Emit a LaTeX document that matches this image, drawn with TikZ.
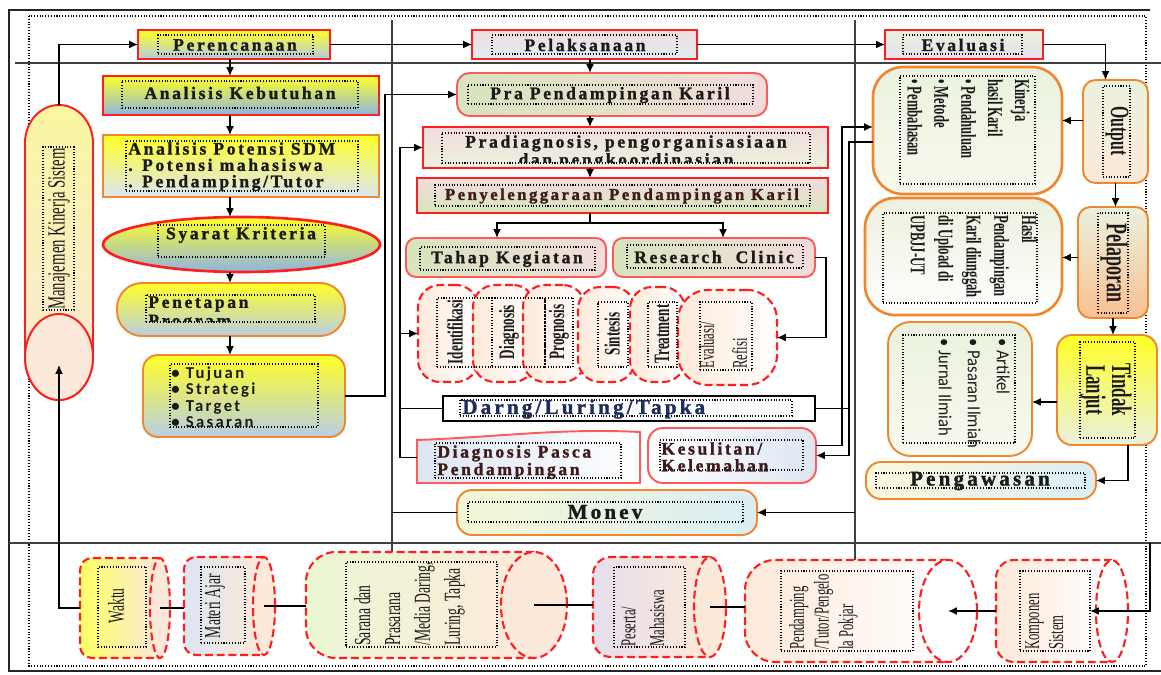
\documentclass[tikz,border=0pt]{standalone}
\usepackage{fontspec}
\setmainfont{Liberation Serif}
\newfontfamily\fBS[LetterSpace=15,BoldFeatures={FakeBold=1.3}]{Liberation Serif}
\newfontfamily\fCX[FakeStretch=0.6]{Liberation Serif}
\newfontfamily\fCB[LetterSpace=14]{Carlito}
\newfontfamily\fCR[FakeStretch=0.9]{Carlito}
\usetikzlibrary{arrows.meta,shapes.geometric}
\def\pxu{0.02cm}
\definecolor{yel}{HTML}{FFFF26}
\definecolor{bluePer}{HTML}{B4CBE6}
\definecolor{blueA}{HTML}{8EB4E3}
\definecolor{blueL}{HTML}{B9CDE5}
\definecolor{blueP}{HTML}{DCE6F2}
\definecolor{pinkA}{HTML}{F2DCDB}
\definecolor{cyanL}{HTML}{DBEEF4}
\definecolor{greenA}{HTML}{D7E4BD}
\definecolor{greenL}{HTML}{EBF1DE}
\definecolor{greenW}{HTML}{F6FAEE}
\definecolor{lav}{HTML}{E5DFEC}
\definecolor{peach}{HTML}{FDE9D9}
\definecolor{peachD}{HTML}{FAC090}
\definecolor{yelL}{HTML}{F4F7D4}
\definecolor{yelP}{HTML}{FCF8DC}
\definecolor{yelW}{HTML}{FFFF66}
\definecolor{mkTop}{HTML}{FAF6A0}
\definecolor{sarL}{HTML}{EBF7D3}
\definecolor{redB}{HTML}{FF1E1E}
\definecolor{redL}{HTML}{FF5A5A}
\definecolor{orgB}{HTML}{F0862E}
\definecolor{txt}{HTML}{1A1A1A}
\definecolor{mar}{HTML}{3E1A1A}
\definecolor{nav}{HTML}{1F2D5C}
\tikzset{
 frm/.style={draw=black!75,line width=1.1pt},
 cn/.style={draw=black,line width=0.85pt},
 ar/.style={cn,-{Latex[length=5pt,width=4.5pt]}},
 inr/.style={draw=black,densely dotted,line width=0.6pt},
 rb/.style={draw=redB,line width=1.1pt},
 lrb/.style={draw=redL,line width=1.1pt},
 ob/.style={draw=orgB,line width=1.1pt},
 dashr/.style={draw=redB,line width=1.2pt,dash pattern=on 4.5pt off 2.2pt},
 tx/.style={inner sep=0pt,text=txt,font=\fBS\bfseries\fontsize{10}{9.3}\selectfont},
 tb/.style={inner sep=0pt,text=txt,font=\fBS\bfseries\fontsize{12}{12}\selectfont},
 rt/.style={inner sep=0pt,text=txt,font=\fCX\bfseries\fontsize{12.5}{15}\selectfont},
 rr/.style={inner sep=0pt,text=txt,font=\fCX\fontsize{13}{17}\selectfont},
}
\newcommand\bx[7]{\node[#1,inner sep=0pt,outer sep=0pt,minimum width={(#5-#3)*\pxu},minimum height={(#6-#4)*\pxu}] (#2) at ({(#3+#5)/2},{(#4+#6)/2}) {#7};}
% name, xleft, xr, cy, rx, ry, R, left colour, right colour
\newcommand\cyl[9]{%
 \path[dashr,left color=#8,right color=#9] (#3,{#4-#6}) -- ({#2+#7},{#4-#6}) arc[start angle=90,end angle=180,radius=#7*\pxu] -- (#2,{#4+#6-#7}) arc[start angle=180,end angle=270,radius=#7*\pxu] -- (#3,{#4+#6}) -- cycle;
 \node[dashr,ellipse,fill=#9,inner sep=0pt,minimum width={2*#5*\pxu},minimum height={2*#6*\pxu}] (#1E) at (#3,#4) {};
 \node[inner sep=0pt,outer sep=0pt,minimum width={(#3+#5-#2)*\pxu},minimum height={2*#6*\pxu}] (#1) at ({(#2+#3+#5)/2},#4) {};
}
\begin{document}
\begin{tikzpicture}[x=0.02cm,y=-0.02cm]
\useasboundingbox (0,0) rectangle (1161,675);
% ---------- frames ----------
\draw[draw=black!85,line width=1.6pt] (1150,10) -- (9,10) -- (9,671) -- (1161,671);
\draw[densely dotted,line width=0.6pt] (29,16) rectangle (1146,666);
\draw[frm] (15,63) -- (1161,63);
\draw[frm] (9,543) -- (1161,543);
\draw[frm,line width=1.4pt] (392,20) -- (392,552);
\draw[frm,line width=1.4pt] (855,20) -- (855,560);

% ---------- Manajemen Kinerja Sistem ----------
\path[rb,top color=mkTop,bottom color=peach] (25,143) arc[start angle=180,end angle=0,x radius=34*\pxu,y radius=38*\pxu] -- (93,357) arc[start angle=0,end angle=-180,x radius=34*\pxu,y radius=43*\pxu] -- cycle;
\draw[rb,fill=peach] (59,357) ellipse[x radius=34*\pxu,y radius=43*\pxu];
\node[inner sep=0pt,outer sep=0pt,minimum width=68*\pxu,minimum height=295*\pxu] (mks) at (59,252.5) {};
\bx{inr}{mksI}{43}{147}{74}{310}{}
\node[rr,rotate=90,font=\fCX\fontsize{14}{16}\selectfont] at (59,229) {Manajemen Kinerja Sistem};
\coordinate (mksIn) at (59,365);

% ---------- column 1 ----------
\bx{rb,top color=yel,bottom color=bluePer}{per}{138}{30}{330}{59}{}
\bx{inr}{perI}{158}{35}{313}{54}{}
\node[tx] at (235,45) {Perencanaan};

\bx{rb,top color=yel,bottom color=blueA}{ak}{103}{76}{379}{115}{}
\bx{inr}{akI}{122}{81}{358}{108}{}
\node[tx] at (240,93) {Analisis Kebutuhan};

\bx{ob,top color=yel,bottom color=blueP}{ap}{103}{135}{379}{197}{}
\bx{inr}{apI}{126}{141}{358}{191}{}
\node[tx,anchor=north west,align=left] at (128,142) {Analisis Potensi SDM\\. Potensi mahasiswa\\. Pendamping/Tutor};

\bx{rb,ellipse,top color=yel,bottom color=blueA,line width=1.5pt}{sk}{103}{217}{380}{272}{}
\bx{inr}{skI}{158}{225}{325}{257}{}
\node[tx] at (241,235) {Syarat Kriteria};

\bx{ob,rounded corners=0.5cm,top color=yel,bottom color=blueL}{pp}{117}{283}{345}{336}{}
\bx{inr}{ppI}{146}{295}{315}{322}{}
\begin{scope}
\clip (146,295) rectangle (315,322);
\node[tx,anchor=north west,align=left,font=\fBS\bfseries\fontsize{10}{10.5}\selectfont] at (148,296) {Penetapan\\Program};
\end{scope}

\bx{ob,rounded corners=0.3cm,top color=yel,bottom color=blueL}{tj}{143}{355}{345}{437}{}
\bx{inr}{tjI}{170}{364}{318}{427}{}
\node[inner sep=0pt,text=txt,font=\fCB\bfseries\fontsize{9.5}{9.4}\selectfont,anchor=north west,align=left] at (171,366) {\textbullet\ Tujuan\\\textbullet\ Strategi\\\textbullet\ Target\\\textbullet\ Sasaran};

% ---------- column 2 ----------
\bx{rb,top color=pinkA,bottom color=cyanL}{pel}{472}{30}{697}{59}{}
\bx{inr}{pelI}{492}{35}{677}{54}{}
\node[tx] at (585,45) {Pelaksanaan};

\bx{lrb,rounded corners=0.25cm,left color=greenA,right color=pinkA}{pra}{457}{73}{767}{116}{}
\bx{inr}{praI}{468}{85}{753}{104}{}
\node[tx] at (610,95) {Pra Pendampingan Karil};

\bx{rb,top color=pinkA,bottom color=greenL}{prad}{423}{127}{828}{168}{}
\bx{inr}{pradI}{442}{133}{810}{163}{}
\begin{scope}
\clip (442,133) rectangle (810,163);
\node[tx,align=center,anchor=north,font=\fBS\bfseries\fontsize{10}{9}\selectfont] at (626,135) {Pradiagnosis, pengorganisasiaan\\dan pengkoordinasian};
\end{scope}

\bx{rb,top color=pinkA,bottom color=greenA}{pen}{417}{178}{828}{213}{}
\bx{inr}{penI}{435}{185}{810}{206}{}
\node[tx,text=mar,font=\fBS\bfseries\fontsize{9.5}{9}\selectfont] at (622,196) {Penyelenggaraan Pendampingan Karil};

\bx{lrb,rounded corners=0.2cm,left color=greenA,right color=pinkA}{tk}{406}{238}{606}{277}{}
\bx{inr}{tkI}{420}{247}{595}{270}{}
\node[tx] at (507,259) {Tahap Kegiatan};

\bx{lrb,rounded corners=0.2cm,left color=greenA,right color=pinkA}{rc}{613}{238}{815}{277}{}
\bx{inr}{rcI}{627}{245}{803}{268}{}
\node[tx] at (714,257) {Research\ \ Clinic};

% dashed stages
\bx{dashr,rounded corners=0.44cm,left color=peach,right color=white}{idn}{418}{285}{478}{382}{}
\bx{dashr,rounded corners=0.44cm,left color=peach,right color=white}{dia}{473}{285}{535}{382}{}
\bx{dashr,rounded corners=0.44cm,left color=peach,right color=white}{pro}{523}{285}{585}{382}{}
\bx{dashr,rounded corners=0.44cm,left color=peach,right color=white}{sin}{578}{287}{635}{382}{}
\bx{dashr,rounded corners=0.44cm,left color=peach,right color=white}{tre}{630}{287}{685}{382}{}
\bx{dashr,rounded corners=0.6cm,left color=peach,right color=white}{evr}{678}{290}{777}{385}{}
\bx{inr}{idnI}{437}{298}{492}{367}{}
\bx{inr}{diaI}{492}{298}{545}{367}{}
\bx{inr}{proI}{545}{298}{573}{367}{}
\bx{inr}{sinI}{598}{302}{628}{367}{}
\bx{inr}{treI}{648}{302}{677}{367}{}
\bx{inr}{evrI}{700}{302}{752}{370}{}
\node[rt,rotate=90] at (455,332) {Identifikasi};
\node[rt,rotate=90] at (509,332) {Diagnosis};
\node[rt,rotate=90] at (559,332) {Prognosis};
\node[rt,rotate=90] at (612,334) {Sintesis};
\node[rt,rotate=90] at (662,334) {Treatment};
\node[rr,rotate=90,anchor=north west,align=left,font=\fCX\fontsize{12}{18.7}\selectfont] at (699,369) {Evaluasi/\\Refisi};

\bx{draw=black,line width=0.9pt,fill=white}{dlt}{443}{396}{815}{421}{}
\bx{inr}{dltI}{460}{400}{792}{416}{}
\node[tb,anchor=west,text=nav] at (462,409) {Darng/Luring/Tapka};

\path[lrb,left color=blueP,right color=white] (417,440) .. controls (500,437) and (560,428) .. (640,432) -- (640,483) -- (417,483) -- cycle;
\node[inner sep=0pt,outer sep=0pt,minimum width=223*\pxu,minimum height=51*\pxu] (dp) at (528.5,457.5) {};
\bx{inr}{dpI}{435}{443}{621}{478}{}
\node[tx,text=mar,anchor=north west,align=left,font=\fBS\bfseries\fontsize{10}{10}\selectfont] at (437,445) {Diagnosis Pasca\\Pendampingan};

\bx{lrb,rounded corners=0.3cm,left color=white,right color=blueP}{kes}{648}{428}{816}{483}{}
\bx{inr}{kesI}{660}{440}{803}{470}{}
\node[tx,text=mar,anchor=north west,align=left,font=\fBS\bfseries\fontsize{10}{9.6}\selectfont] at (661,442) {Kesulitan/\\Kelemahan};

\bx{ob,rounded corners=0.3cm,left color=yelL,right color=cyanL}{mon}{457}{490}{757}{535}{}
\bx{inr}{monI}{468}{502}{743}{522}{}
\node[tb] at (605,512) {Monev};

% ---------- column 3 ----------
\bx{rb,top color=greenL,bottom color=lav}{eva}{885}{30}{1043}{59}{}
\bx{inr}{evaI}{903}{35}{1022}{54}{}
\node[tx] at (963,45) {Evaluasi};

\bx{ob,rounded corners=0.25cm,top color=greenL,bottom color=peach}{out}{1083}{80}{1148}{183}{}
\bx{inr}{outI}{1103}{86}{1130}{177}{}
\node[rt,rotate=-90,font=\fCX\bfseries\fontsize{15}{16}\selectfont] at (1117,131) {Output};

\bx{ob,line width=1.5pt,rounded corners=0.6cm,top color=greenL,bottom color=greenW}{kin}{873}{67}{1062}{194}{}
\bx{inr}{kinI}{900}{76}{1035}{184}{}
\node[rt,rotate=-90,anchor=north west,align=left,font=\fCX\bfseries\fontsize{12}{15.3}\selectfont] at (1030,79) {Kinerja\\hasil Karil\\\textbullet\ Pendahuluan\\\textbullet\ Metode\\\textbullet\ Pembahasan};

\bx{ob,line width=1.5pt,rounded corners=0.6cm,top color=greenL,bottom color=white}{has}{865}{198}{1062}{315}{}
\bx{inr}{hasI}{883}{213}{1037}{303}{}
\node[rt,rotate=-90,anchor=north west,align=left,font=\fCX\bfseries\fontsize{12}{15.8}\selectfont] at (1037,215) {Hasil\\Pendampingan\\Karil diunggah\\di Upload di\\UPBJJ-UT};

\bx{ob,rounded corners=0.25cm,top color=greenL,bottom color=peachD}{pla}{1078}{207}{1148}{318}{}
\bx{inr}{plaI}{1098}{213}{1128}{313}{}
\node[rt,rotate=-90,font=\fCX\bfseries\fontsize{17}{18}\selectfont] at (1114,263) {Pelaporan};

\bx{ob,rounded corners=0.3cm,top color=yel,bottom color=greenL}{tl}{1057}{335}{1157}{445}{}
\bx{inr}{tlI}{1080}{342}{1135}{438}{}
\node[rt,rotate=-90,align=center,font=\fCX\bfseries\fontsize{16}{14.7}\selectfont] at (1106,390) {Tindak\\Lanjut};

\bx{ob,rounded corners=0.45cm,top color=greenL,bottom color=greenW}{art}{888}{322}{1032}{456}{}
\bx{inr}{artI}{903}{335}{1015}{443}{}
\node[inner sep=0pt,text=txt,rotate=-90,anchor=north west,align=left,font=\fCR\fontsize{10.5}{16.5}\selectfont] at (1010,338) {\textbullet\ Artikel\\\textbullet\ Pasaran Ilmiah\\\textbullet\ Jurnal Ilmiah};

\bx{ob,rounded corners=0.3cm,left color=yelP,right color=cyanL}{pgw}{866}{462}{1096}{499}{}
\bx{inr}{pgwI}{876}{473}{1085}{488}{}
\node[tb] at (980,481) {Pengawasan};

% ---------- bottom row ----------
\cyl{wak}{80}{160}{608}{10}{50}{12}{yelW}{peach}
\cyl{mat}{184}{264}{606}{11}{49}{12}{blueP}{peach}
\cyl{sar}{306}{534}{605}{33}{53}{30}{sarL}{peach}
\cyl{pes}{593}{710}{607}{16}{50}{18}{lav}{peach}
\cyl{pdm}{745}{948}{611}{29}{51}{30}{peach}{white}
\cyl{kom}{996}{1112}{611}{16}{51}{18}{peach}{white}
\bx{inr}{wakI}{98}{567}{146}{647}{}
\bx{inr}{matI}{201}{567}{245}{643}{}
\bx{inr}{sarI}{346}{562}{497}{647}{}
\bx{inr}{pesI}{614}{567}{685}{647}{}
\bx{inr}{pdmI}{781}{571}{913}{651}{}
\bx{inr}{komI}{1020}{571}{1090}{651}{}
\node[rr,rotate=90] at (116,606) {Waktu};
\node[rr,rotate=90] at (215,606) {Materi Ajar};
\node[rr,rotate=90,anchor=north west,align=left] at (354,646) {Sarana dan\\Prasarana\\/Media Daring,\\Luring, Tapka};
\node[rr,rotate=90,anchor=north west,align=left,font=\fCX\fontsize{12}{16.4}\selectfont] at (621,647) {Peserta/\\Mahasiswa};
\node[rr,rotate=90,anchor=north west,align=left,font=\fCX\fontsize{12}{14}\selectfont] at (789,650) {Pendamping\\/Tutor/Pengelo\\la Pokjar};
\node[rr,rotate=90,anchor=north west,align=left,font=\fCX\fontsize{12}{13.6}\selectfont] at (1025,650) {Komponen\\Sistem};

% ---------- connectors ----------
\coordinate (c1) at (230,0);
\coordinate (c2) at (385,0);
\coordinate (c3) at (590,0);
\coordinate (spl) at (590,223);
\coordinate (c4) at (400,0);
\coordinate (c5) at (826,0);
\coordinate (c6) at (842,0);
\coordinate (c7) at (849,0);
\coordinate (v1) at (392,0);
\coordinate (v2) at (855,0);
\coordinate (kIn) at (1150,543);

\draw[ar] (mks.north) |- (per.west);
\draw[ar] (per.east) -- (pel.west);
\draw[ar] (pel.east) -- (eva.west);
\draw[ar] (eva.east) -| ([xshift=-0.2cm]out.north);

\draw[ar] (c1 |- per.south) -- (c1 |- ak.north);
\draw[ar] (c1 |- ak.south) -- (c1 |- ap.north);
\draw[ar] (c1 |- ap.south) -- (c1 |- sk.north);
\draw[ar] (c1 |- sk.south) -- (c1 |- pp.north);
\draw[ar] (c1 |- pp.south) -- (c1 |- tj.north);
\draw[ar] (tj.east) -- (c2 |- tj.east) -- (c2 |- pra.west) -- (pra.west);

\draw[ar] (c3 |- pel.south) -- (c3 |- pra.north);
\draw[ar] (c3 |- pra.south) -- (c3 |- prad.north);
\draw[ar] (c3 |- prad.south) -- (c3 |- pen.north);
\draw[cn] (c3 |- pen.south) -- (spl);
\draw[ar] (spl) -| ([xshift=-0.18cm]tk.north);
\draw[ar] (spl) -| ([xshift=0.18cm]rc.north);

\draw[ar] (dp.west) -- (c4 |- dp.west) -- (c4 |- prad.west) -- (prad.west);
\draw[ar] (c4 |- idn.west) -- (idn.west);
\draw[cn] (dlt.west) -- (c4 |- dlt.west);
\draw[ar] (rc.east) -- (c5 |- rc.east) -- (c5 |- evr.east) -- (evr.east);

\coordinate (kesO) at ([yshift=0.2cm]kes.east);
\coordinate (kinIn) at ([yshift=0.07cm]kin.west);
\coordinate (kinO) at ([yshift=-0.23cm]kin.west);
\draw[ar] (kesO) -- (c6 |- kesO) -- (c6 |- kinIn) -- (kinIn);
\draw[ar] (kinO) -- (c7 |- kinO) -- (c7 |- kes.east) -- (kes.east);
\draw[cn] (dlt.east) -- (c7 |- dlt.east);
\draw[cn] (v1 |- mon.west) -- (mon.west);
\draw[ar] (v2 |- mon.east) -- (mon.east);

\coordinate (outW) at ([yshift=0.22cm]out.west);
\draw[ar] (outW) -- (outW -| kin.east);
\draw[ar] (out.south) -- (out.south |- pla.north);
\coordinate (plaW) at ([yshift=0.1cm]pla.west);
\draw[ar] (plaW) -- (plaW -| has.east);
\draw[ar] (pla.south) -- (pla.south |- tl.north);
\coordinate (tlW) at ([yshift=-0.24cm]tl.west);
\draw[ar] (tlW) -- (tlW -| art.east);
\coordinate (tlS) at ([xshift=0.42cm]tl.south);
\draw[ar] (tlS) |- (pgw.east);

\draw[ar] (kIn) |- (komI.east);
\draw[ar] (kom.west) -- (pdmE.center);
\draw[cn] (pesE.center) -- (pesE.center -| pdm.west);
\draw[cn] (sarE.center) -- (sarE.center -| pes.west);
\draw[cn] (matE.center) -- (matE.center -| sar.west);
\draw[cn] (wakE.center) -- (wakE.center -| mat.west);
\draw[ar] (wak.west) -| (mksIn);
\end{tikzpicture}
\end{document}
